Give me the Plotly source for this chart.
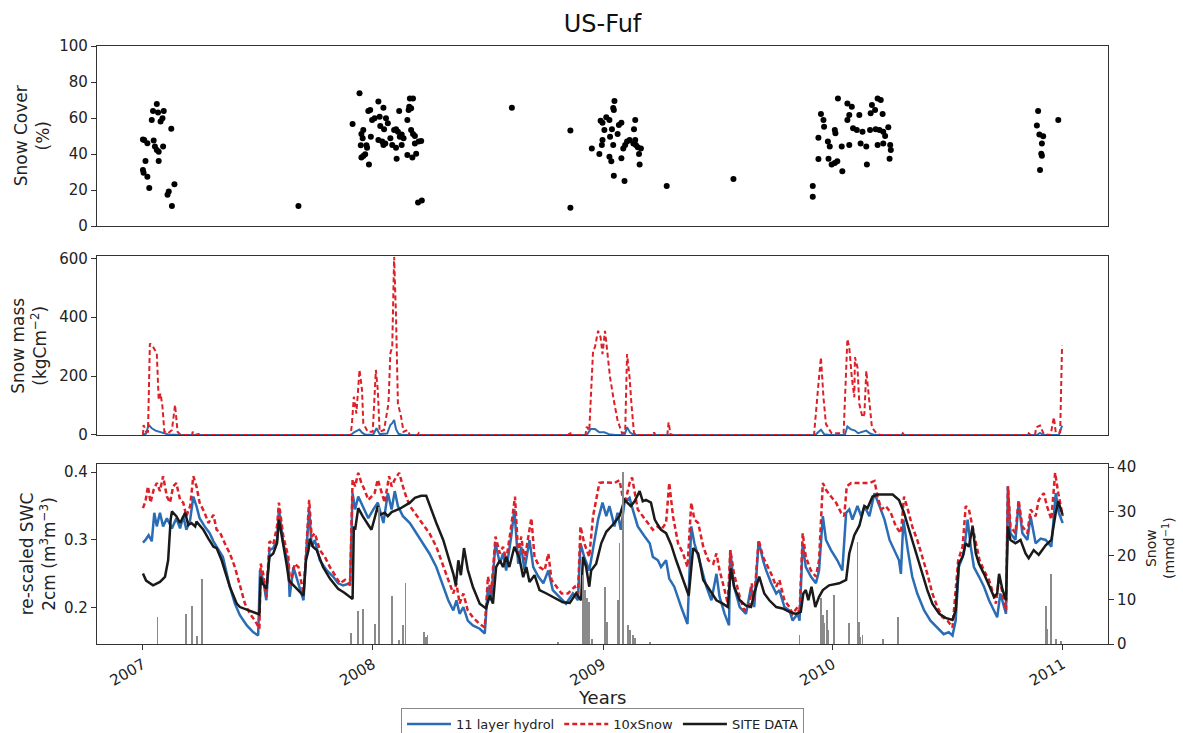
import pandas as pd
import plotly.graph_objects as go

# ---------------- data (day number since 2007-01-01, value) ----------------
START = "2007-01-01"
year_ticks = ["2007", "2008", "2009", "2010", "2011"]
year_tick_dates = ["2007-01-01", "2008-01-01", "2009-01-01", "2010-01-01", "2011-01-01"]

# Snow cover (%) observations
cover = [
    (0, 48.1), (2, 47.8), (7, 46.0), (4, 36.1), (0, 31.1), (1, 29.6), (7, 27.4), (10, 21.1), (14, 58.9),
    (16, 63.9), (17, 47.5), (22, 67.8), (24, 63.0), (33, 63.9), (28, 58.0), (31, 59.9), (19, 44.1),
    (22, 42.2), (25, 41.3), (32, 44.1), (25, 36.1), (45, 54.0), (39, 17.3), (41, 19.1), (50, 23.2),
    (46, 11.1), (247, 11.1),
    (344, 73.7), (333, 56.7), (347, 51.1), (349, 48.7), (350, 53.3), (346, 44.8), (350, 38.9), (347, 38.0),
    (353, 39.8), (355, 44.8), (356, 43.5), (359, 34.1), (358, 63.9), (361, 64.4), (362, 49.6), (364, 58.9),
    (368, 59.9), (374, 69.1), (376, 60.7), (382, 65.7), (377, 55.6), (383, 53.7), (386, 59.9), (389, 57.1),
    (393, 48.7), (385, 45.9), (380, 46.9), (374, 47.8), (382, 45.0), (396, 45.0), (399, 53.3), (402, 53.7),
    (405, 52.4), (402, 43.5), (403, 37.4), (407, 63.9), (411, 45.0), (408, 49.6), (411, 50.9), (414, 48.7),
    (420, 58.9), (422, 64.4), (423, 66.3), (424, 70.9), (429, 70.9), (426, 65.4), (426, 53.3), (429, 51.1),
    (432, 50.0), (432, 45.9), (420, 39.4), (428, 38.0), (434, 40.2), (438, 46.9), (442, 47.2), (437, 13.0),
    (443, 14.1), (586, 65.7),
    (679, 53.1), (679, 10.2), (713, 43.1), (725, 40.0), (727, 58.5), (730, 57.4), (733, 53.3), (736, 60.4),
    (741, 58.9), (742, 49.6), (741, 38.5), (744, 36.0), (745, 53.7), (748, 64.4), (749, 69.4), (747, 65.5),
    (754, 51.1), (756, 56.1), (760, 57.4), (760, 37.6), (747, 45.0), (729, 45.0), (730, 47.8), (763, 43.1),
    (766, 45.0), (769, 46.9), (773, 47.8), (779, 45.9), (780, 53.7), (782, 58.9), (782, 47.8), (783, 45.0),
    (786, 43.7), (788, 40.0), (791, 43.1), (789, 34.1), (748, 27.9), (765, 25.0), (832, 22.2), (938, 26.1),
    (1064, 22.2), (1064, 16.3), (1073, 49.0), (1073, 37.2), (1077, 62.2), (1081, 58.9), (1082, 55.2),
    (1089, 37.4), (1088, 46.9), (1091, 44.1), (1094, 34.1), (1099, 35.0), (1103, 36.0), (1111, 30.4),
    (1104, 70.9), (1119, 68.1), (1126, 66.3), (1122, 61.7), (1119, 58.9), (1099, 53.3), (1100, 51.5),
    (1110, 44.1), (1122, 45.0), (1128, 54.3), (1134, 53.3), (1140, 45.9), (1143, 52.4), (1138, 61.7),
    (1149, 44.1), (1150, 34.1), (1156, 62.6), (1158, 67.2), (1163, 64.4), (1167, 70.9), (1172, 70.0),
    (1170, 53.3), (1175, 62.2), (1176, 52.4), (1179, 50.0), (1167, 45.0), (1176, 45.9), (1184, 54.8),
    (1187, 45.0), (1188, 42.2), (1186, 37.4), (1155, 53.3), (1164, 53.7),
    (1422, 63.9), (1420, 55.8), (1424, 50.9), (1430, 49.9), (1428, 45.9), (1427, 40.1), (1428, 39.0),
    (1425, 31.1), (1454, 58.9),
]

# Snow mass (kg m-2)
mass_hydrol = [
    (0, 0), (5, 5), (9, 34), (14, 23), (20, 15), (26, 11), (32, 6), (40, 2), (60, 0), (330, 0), (336, 10),
    (344, 19), (348, 8), (353, 1), (366, 2), (371, 23), (376, 3), (388, 5), (393, 34), (396, 40), (399, 51),
    (402, 20), (406, 4), (412, 0), (705, 0), (711, 20), (718, 20), (725, 9), (733, 9), (740, 3), (750, 0),
    (765, 0), (769, 26), (774, 8), (780, 0), (1068, 0), (1073, 10), (1077, 18), (1082, 3), (1090, 0),
    (1115, 0), (1119, 29), (1124, 20), (1131, 15), (1136, 6), (1149, 15), (1155, 5), (1162, 0), (1420, 0),
    (1425, 7), (1430, 0), (1455, 0), (1460, 32),
]
mass_snow = [
    (0, 0), (1, 34), (5, 11), (8, 11), (11, 311), (16, 300), (22, 277), (25, 119), (28, 141), (31, 96),
    (34, 11), (40, 6), (46, 17), (51, 102), (55, 11), (60, 0), (78, 0), (79, 11), (82, 0), (88, 3), (92, 0),
    (290, 0), (292, 2), (294, 0), (330, 0), (332, 40), (335, 130), (339, 73), (344, 221), (348, 153),
    (350, 40), (357, 11), (365, 11), (370, 221), (373, 153), (376, 11), (383, 17), (390, 107), (393, 277),
    (396, 300), (399, 605), (402, 402), (405, 107), (410, 62), (414, 11), (420, 17), (424, 0), (436, 0),
    (438, 6), (440, 0), (676, 0), (678, 12), (680, 0), (703, 0), (705, 28), (709, 15), (715, 286),
    (718, 298), (723, 354), (727, 332), (730, 275), (734, 354), (737, 298), (742, 196), (748, 117),
    (754, 49), (761, 6), (766, 9), (769, 275), (773, 196), (776, 105), (780, 6), (785, 0), (810, 0),
    (812, 9), (814, 0), (833, 0), (835, 43), (838, 3), (842, 0), (1066, 0), (1070, 117), (1073, 173),
    (1077, 264), (1081, 128), (1085, 37), (1094, 6), (1113, 6), (1116, 150), (1119, 326), (1122, 298),
    (1126, 196), (1130, 128), (1131, 264), (1135, 230), (1138, 105), (1143, 60), (1146, 71), (1149, 218),
    (1152, 150), (1155, 105), (1158, 26), (1164, 9), (1167, 3), (1172, 0), (1205, 0), (1207, 6), (1209, 0),
    (1405, 0), (1407, 6), (1410, 0), (1417, 0), (1419, 26), (1425, 32), (1431, 3), (1442, 0), (1444, 26),
    (1447, 60), (1450, 9), (1457, 9), (1460, 303),
]

# re-scaled SWC 2cm (m3 m-3)
swc_hydrol = [
    (0, .296), (4, .300), (9, .307), (14, .298), (18, .340), (22, .320), (27, .340), (32, .320), (38, .332),
    (46, .317), (53, .332), (59, .317), (64, .335), (69, .315), (75, .330), (80, .364), (85, .350), (90, .332),
    (98, .320), (106, .310), (112, .298), (119, .288), (127, .275), (138, .231), (146, .206), (154, .189),
    (165, .174), (175, .164), (183, .159), (186, .2555), (191, .241), (196, .211), (201, .285), (207, .288),
    (213, .300), (216, .345), (223, .295), (231, .265), (233, .216), (239, .260), (247, .236), (255, .211),
    (260, .290), (264, .345), (268, .290), (273, .300), (281, .270), (292, .255), (302, .246), (310, .236),
    (318, .233), (329, .236), (333, .369), (337, .345), (342, .364), (349, .350), (358, .332), (366, .345),
    (373, .355), (382, .325), (389, .369), (395, .345), (400, .372), (405, .350), (413, .335), (424, .325),
    (434, .310), (445, .295), (455, .280), (466, .260), (477, .231), (485, .211), (493, .196), (498, .211),
    (503, .191), (509, .201), (516, .181), (524, .174), (535, .169), (543, .162), (548, .231), (553, .211),
    (560, .295), (567, .265), (572, .280), (577, .255), (585, .305), (590, .345), (596, .265), (601, .290),
    (606, .255), (614, .300), (620, .260), (628, .246), (636, .236), (644, .255), (651, .226), (662, .216),
    (672, .206), (683, .221), (691, .211), (695, .295), (701, .275), (709, .255), (715, .290), (723, .330),
    (730, .355), (736, .335), (741, .350), (749, .320), (754, .340), (759, .315), (765, .355), (773, .362),
    (778, .345), (786, .320), (797, .305), (805, .295), (810, .275), (818, .270), (823, .260), (831, .270),
    (836, .243), (844, .231), (855, .201), (865, .176), (871, .320), (876, .295), (884, .270), (895, .231),
    (903, .211), (911, .250), (916, .216), (924, .191), (931, .174), (933, .285), (939, .231), (948, .201),
    (958, .191), (966, .231), (971, .201), (978, .298), (985, .270), (990, .255), (998, .236), (1006, .221),
    (1011, .226), (1019, .201), (1027, .196), (1032, .181), (1040, .191), (1043, .181), (1048, .295),
    (1053, .260), (1061, .246), (1069, .236), (1074, .255), (1080, .335), (1085, .300), (1093, .285),
    (1103, .270), (1111, .255), (1117, .340), (1122, .345), (1127, .330), (1135, .350), (1141, .335),
    (1146, .350), (1154, .335), (1162, .369), (1170, .350), (1178, .330), (1186, .300), (1194, .285),
    (1201, .270), (1204, .250), (1208, .330), (1215, .285), (1222, .246), (1230, .221), (1241, .196),
    (1251, .181), (1262, .171), (1272, .161), (1280, .164), (1286, .159), (1291, .181), (1296, .260),
    (1304, .280), (1310, .330), (1315, .290), (1320, .260), (1328, .246), (1336, .231), (1344, .211),
    (1349, .201), (1357, .186), (1362, .221), (1371, .191), (1374, .379), (1378, .310), (1386, .300),
    (1391, .355), (1397, .310), (1405, .300), (1410, .335), (1418, .295), (1426, .302), (1434, .300),
    (1443, .290), (1450, .369), (1455, .340), (1461, .325),
]
swc_snow = [
    (0, .347), (4, .357), (8, .379), (12, .355), (17, .374), (22, .384), (27, .372), (32, .394), (38, .364),
    (43, .355), (48, .379), (53, .384), (59, .359), (64, .355), (69, .335), (75, .350), (80, .394), (85, .379),
    (90, .355), (98, .340), (104, .325), (112, .337), (117, .315), (122, .312), (130, .295), (138, .280),
    (146, .260), (154, .231), (162, .206), (170, .191), (178, .181), (185, .169), (187, .265), (191, .250),
    (196, .216), (201, .298), (207, .293), (213, .320), (216, .355), (223, .305), (231, .275), (234, .231),
    (241, .265), (247, .260), (255, .221), (260, .295), (264, .359), (268, .305), (273, .310), (281, .285),
    (289, .275), (297, .260), (305, .248), (313, .236), (321, .241), (329, .233), (333, .389), (337, .379),
    (342, .399), (347, .384), (352, .374), (358, .359), (363, .364), (368, .369), (373, .389), (379, .369),
    (384, .355), (391, .394), (395, .379), (400, .389), (407, .399), (413, .379), (418, .364), (424, .350),
    (432, .340), (439, .330), (447, .320), (455, .310), (466, .290), (477, .260), (485, .241), (493, .221),
    (498, .236), (503, .206), (509, .221), (516, .196), (524, .186), (535, .176), (543, .171), (548, .246),
    (553, .221), (560, .305), (567, .280), (572, .290), (577, .270), (585, .320), (591, .364), (596, .280),
    (601, .305), (606, .270), (617, .332), (622, .275), (630, .260), (638, .255), (644, .280), (649, .241),
    (657, .231), (665, .221), (675, .221), (686, .231), (691, .221), (695, .320), (701, .295), (709, .275),
    (715, .335), (720, .359), (725, .384), (733, .385), (741, .384), (749, .384), (757, .388), (762, .364),
    (767, .359), (773, .384), (777, .392), (781, .369), (786, .345), (794, .335), (802, .325), (810, .315),
    (818, .320), (823, .315), (831, .325), (836, .384), (842, .335), (850, .295), (858, .280), (865, .260),
    (871, .355), (876, .330), (882, .325), (890, .290), (898, .270), (906, .265), (911, .280), (916, .255),
    (924, .226), (929, .206), (933, .285), (939, .250), (948, .216), (955, .196), (963, .201), (967, .236),
    (971, .211), (978, .300), (985, .275), (990, .265), (998, .250), (1006, .231), (1011, .241), (1019, .211),
    (1027, .201), (1032, .191), (1040, .201), (1043, .191), (1048, .310), (1053, .275), (1061, .255),
    (1069, .246), (1074, .270), (1080, .384), (1085, .374), (1093, .364), (1101, .355), (1109, .340),
    (1114, .335), (1118, .379), (1125, .384), (1133, .384), (1141, .384), (1149, .384), (1154, .384),
    (1162, .387), (1167, .364), (1173, .345), (1180, .350), (1188, .340), (1196, .320), (1204, .310),
    (1209, .364), (1215, .345), (1222, .320), (1230, .300), (1238, .275), (1246, .250), (1254, .221),
    (1262, .201), (1270, .186), (1278, .181), (1286, .171), (1290, .216), (1295, .270), (1302, .290),
    (1307, .350), (1312, .345), (1318, .320), (1323, .295), (1329, .270), (1336, .255), (1344, .241),
    (1349, .226), (1355, .206), (1360, .246), (1366, .216), (1371, .196), (1374, .379), (1378, .320),
    (1386, .310), (1391, .359), (1397, .320), (1405, .310), (1410, .345), (1418, .335), (1423, .359),
    (1431, .369), (1436, .350), (1443, .330), (1449, .399), (1454, .369), (1461, .335),
]
swc_site = [
    (0, .2505), (5, .240), (16, .233), (27, .238), (35, .2456), (40, .270), (44, .330), (46, .342), (53, .335),
    (59, .325), (67, .340), (72, .322), (77, .325), (83, .320), (85, .327), (96, .315), (104, .302), (112, .290),
    (117, .288), (125, .270), (138, .231), (149, .206), (154, .201), (170, .195), (185, .190), (187, .2455),
    (190, .236), (196, .228), (201, .275), (207, .280), (213, .295), (216, .330), (222, .300), (228, .265),
    (232, .240), (241, .231), (255, .218), (259, .270), (263, .285), (265, .302), (270, .290), (276, .285),
    (286, .260), (297, .243), (310, .228), (320, .222), (329, .215), (333, .213), (335, .320), (337, .315),
    (342, .347), (349, .335), (358, .322), (363, .315), (368, .332), (373, .350), (376, .337), (384, .340),
    (389, .335), (395, .341), (408, .346), (424, .355), (432, .362), (442, .365), (450, .365), (455, .352),
    (466, .325), (477, .300), (487, .270), (493, .250), (497, .233), (501, .270), (505, .248), (510, .288),
    (516, .256), (524, .231), (535, .206), (545, .199), (551, .218), (556, .206), (561, .260), (567, .270),
    (572, .260), (577, .275), (582, .260), (590, .290), (598, .273), (604, .245), (609, .260), (614, .238),
    (622, .248), (630, .226), (641, .221), (651, .216), (667, .208), (678, .207), (688, .221), (696, .211),
    (699, .275), (704, .260), (709, .231), (712, .255), (720, .265), (728, .295), (736, .312), (746, .322),
    (757, .335), (765, .359), (770, .355), (775, .350), (781, .357), (789, .372), (794, .357), (799, .359),
    (807, .355), (813, .330), (818, .322), (823, .315), (831, .310), (839, .293), (847, .270), (858, .241),
    (867, .218), (874, .288), (882, .280), (890, .241), (900, .226), (911, .211), (921, .206), (929, .201),
    (934, .258), (939, .231), (948, .211), (958, .203), (966, .201), (971, .221), (979, .246), (987, .221),
    (995, .211), (1006, .201), (1016, .199), (1027, .194), (1037, .191), (1045, .194), (1049, .221),
    (1053, .226), (1057, .211), (1062, .231), (1068, .201), (1074, .216), (1080, .226), (1090, .233),
    (1106, .236), (1117, .241), (1122, .280), (1130, .307), (1138, .321), (1146, .350), (1151, .347),
    (1159, .364), (1167, .367), (1180, .367), (1191, .367), (1201, .359), (1209, .340), (1217, .315),
    (1227, .285), (1238, .250), (1246, .226), (1254, .206), (1265, .191), (1275, .185), (1286, .182),
    (1291, .196), (1296, .265), (1302, .275), (1307, .295), (1312, .290), (1318, .320), (1323, .280),
    (1328, .265), (1336, .250), (1344, .233), (1352, .216), (1357, .221), (1360, .250), (1365, .228),
    (1371, .211), (1374, .320), (1378, .300), (1386, .295), (1394, .300), (1402, .280), (1407, .273),
    (1415, .285), (1423, .278), (1434, .292), (1443, .300), (1450, .340), (1454, .357), (1458, .345),
    (1461, .337),
]

# Snowfall (mm d-1), right axis of the bottom panel
snowfall = [
    (23, 6.1), (68, 6.8), (69, 5.0), (78, 8.7), (86, 1.7), (94, 14.6), (330, 2.6), (342, 7.5), (349, 7.9),
    (368, 4.5), (375, 31.0), (395, 10.8), (407, 0.8), (413, 4.4), (417, 13.7), (446, 2.8), (450, 1.5),
    (452, 2.1), (659, 0.3), (699, 15.6), (702, 12.2), (705, 10.3), (709, 9.6), (713, 1.1), (734, 12.8),
    (737, 5.0), (754, 9.9), (757, 22.8), (762, 38.8), (770, 4.3), (774, 3.2), (778, 2.1), (781, 1.3),
    (805, 0.5), (1043, 2.0), (1077, 10.3), (1080, 6.5), (1082, 4.7), (1087, 7.7), (1089, 3.2), (1098, 11.1),
    (1121, 4.7), (1135, 23.0), (1137, 5.0), (1139, 1.6), (1143, 2.0), (1176, 1.1), (1200, 6.1), (1435, 8.7),
    (1437, 3.5), (1442, 15.9), (1450, 1.1), (1458, 0.6),
]

# ---------------- helpers ----------------
base = pd.Timestamp(START)


def split(series):
    days = [d for d, _ in series]
    vals = [v for _, v in series]
    return list(base + pd.to_timedelta(days, unit="D")), vals


BLUE = "#2a6db5"
RED = "#dd2027"
BLACK = "#1a1a1a"
GREY = "#8a8a8a"
AX = "#333333"
FONT = "DejaVu Sans"

fig = go.Figure()

# top: snow cover
cx, cy = split(cover)
fig.add_trace(go.Scatter(x=cx, y=cy, mode="markers", xaxis="x3", yaxis="y3",
                         marker=dict(color="black", size=6), showlegend=False))

# middle: snow mass
mx, my = split(mass_hydrol)
fig.add_trace(go.Scatter(x=mx, y=my, mode="lines", xaxis="x2", yaxis="y2",
                         line=dict(color=BLUE, width=2), showlegend=False))
mx, my = split(mass_snow)
fig.add_trace(go.Scatter(x=mx, y=my, mode="lines", xaxis="x2", yaxis="y2",
                         line=dict(color=RED, width=2, dash="5px,3px"), showlegend=False))

# bottom: SWC
sx, sy = split(swc_hydrol)
fig.add_trace(go.Scatter(x=sx, y=sy, mode="lines", xaxis="x", yaxis="y", name="11 layer hydrol",
                         line=dict(color=BLUE, width=2.5)))
sx, sy = split(swc_snow)
fig.add_trace(go.Scatter(x=sx, y=sy, mode="lines", xaxis="x", yaxis="y", name="10xSnow",
                         line=dict(color=RED, width=2.5, dash="5px,3px")))
sx, sy = split(swc_site)
fig.add_trace(go.Scatter(x=sx, y=sy, mode="lines", xaxis="x", yaxis="y", name="SITE DATA",
                         line=dict(color=BLACK, width=2.5)))
bx, by = split(snowfall)
fig.add_trace(go.Bar(x=bx, y=by, xaxis="x", yaxis="y4", width=1.3 * 86400000,
                     marker=dict(color=GREY, line=dict(width=0)), showlegend=False))

xrange = ["2006-10-20", "2011-03-14"]
tickfont = dict(family=FONT, size=15, color="#222")
common_axis = dict(showline=True, linecolor=AX, linewidth=1.2, mirror=True, showgrid=False,
                   zeroline=False, tickfont=tickfont, ticklen=5, tickcolor=AX, automargin=False)

d_bot = [0, 0.301]
d_mid = [0.3495, 0.6488]
d_top = [0.699, 1.0]

fig.update_layout(
    width=1183, height=733,
    margin=dict(l=97, r=75, t=46, b=89, autoexpand=False),
    paper_bgcolor="white", plot_bgcolor="white",
    font=dict(family=FONT, color="#222"),
    bargap=0, barmode="overlay",
    title=dict(text="US-Fuf", x=0.5, xref="paper", xanchor="center", y=0.968, yanchor="middle",
               font=dict(family=FONT, size=24, color="#111")),
    xaxis=dict(common_axis, domain=[0, 1], anchor="y", type="date", range=xrange,
               tickmode="array", tickvals=year_tick_dates, ticktext=year_ticks,
               tickangle=-30, ticks="outside"),
    xaxis2=dict(common_axis, domain=[0, 1], anchor="y2", matches="x", type="date", range=xrange,
                showticklabels=False, ticks=""),
    xaxis3=dict(common_axis, domain=[0, 1], anchor="y3", matches="x", type="date", range=xrange,
                showticklabels=False, ticks=""),
    yaxis=dict(common_axis, domain=d_bot, anchor="x", range=[0.1465, 0.412],
               tickvals=[0.2, 0.3, 0.4], ticktext=["0.2", "0.3", "0.4"], ticks="outside"),
    yaxis4=dict(showline=True, linecolor=AX, linewidth=1.2, showgrid=False, zeroline=False,
                tickfont=tickfont, ticklen=5, tickcolor=AX, automargin=False,
                overlaying="y", side="right", anchor="x", range=[0, 40.7],
                tickvals=[0, 10, 20, 30, 40], ticks="outside"),
    yaxis2=dict(common_axis, domain=d_mid, anchor="x2", range=[0, 608],
                tickvals=[0, 200, 400, 600], ticks="outside"),
    yaxis3=dict(common_axis, domain=d_top, anchor="x3", range=[0, 100],
                tickvals=[0, 20, 40, 60, 80, 100], ticks="outside"),
    legend=dict(orientation="h", x=0.5, xanchor="center", y=-0.107, yanchor="top",
                bordercolor="#888", borderwidth=1, bgcolor="white",
                font=dict(family=FONT, size=13, color="#222"), itemwidth=44),
)

title_font = dict(family=FONT, size=17, color="#222")
annos = [
    dict(text="Snow Cover<br>(%)", x=-0.064, y=sum(d_top) / 2, font=title_font),
    dict(text="Snow mass<br>(kgCm<sup>−2</sup>)", x=-0.068, y=sum(d_mid) / 2, font=title_font),
    dict(text="re-scaled SWC<br>2cm (m<sup>3</sup>m<sup>−3</sup>)", x=-0.058, y=sum(d_bot) / 2, font=title_font),
    dict(text="Snow<br>(mmd<sup>−1</sup>)", x=1.052, y=0.16, font=dict(family=FONT, size=14, color="#222")),
]
for a in annos:
    fig.add_annotation(xref="paper", yref="paper", showarrow=False, textangle=-90,
                       xanchor="center", yanchor="middle", **a)
fig.add_annotation(text="Years", xref="paper", yref="paper", x=0.5, y=-0.09, showarrow=False,
                   xanchor="center", yanchor="middle", font=dict(family=FONT, size=18, color="#222"))

fig.write_html("out.html", config={"displayModeBar": False},
               post_script="document.body.style.margin='0';document.body.style.overflow='hidden';")
